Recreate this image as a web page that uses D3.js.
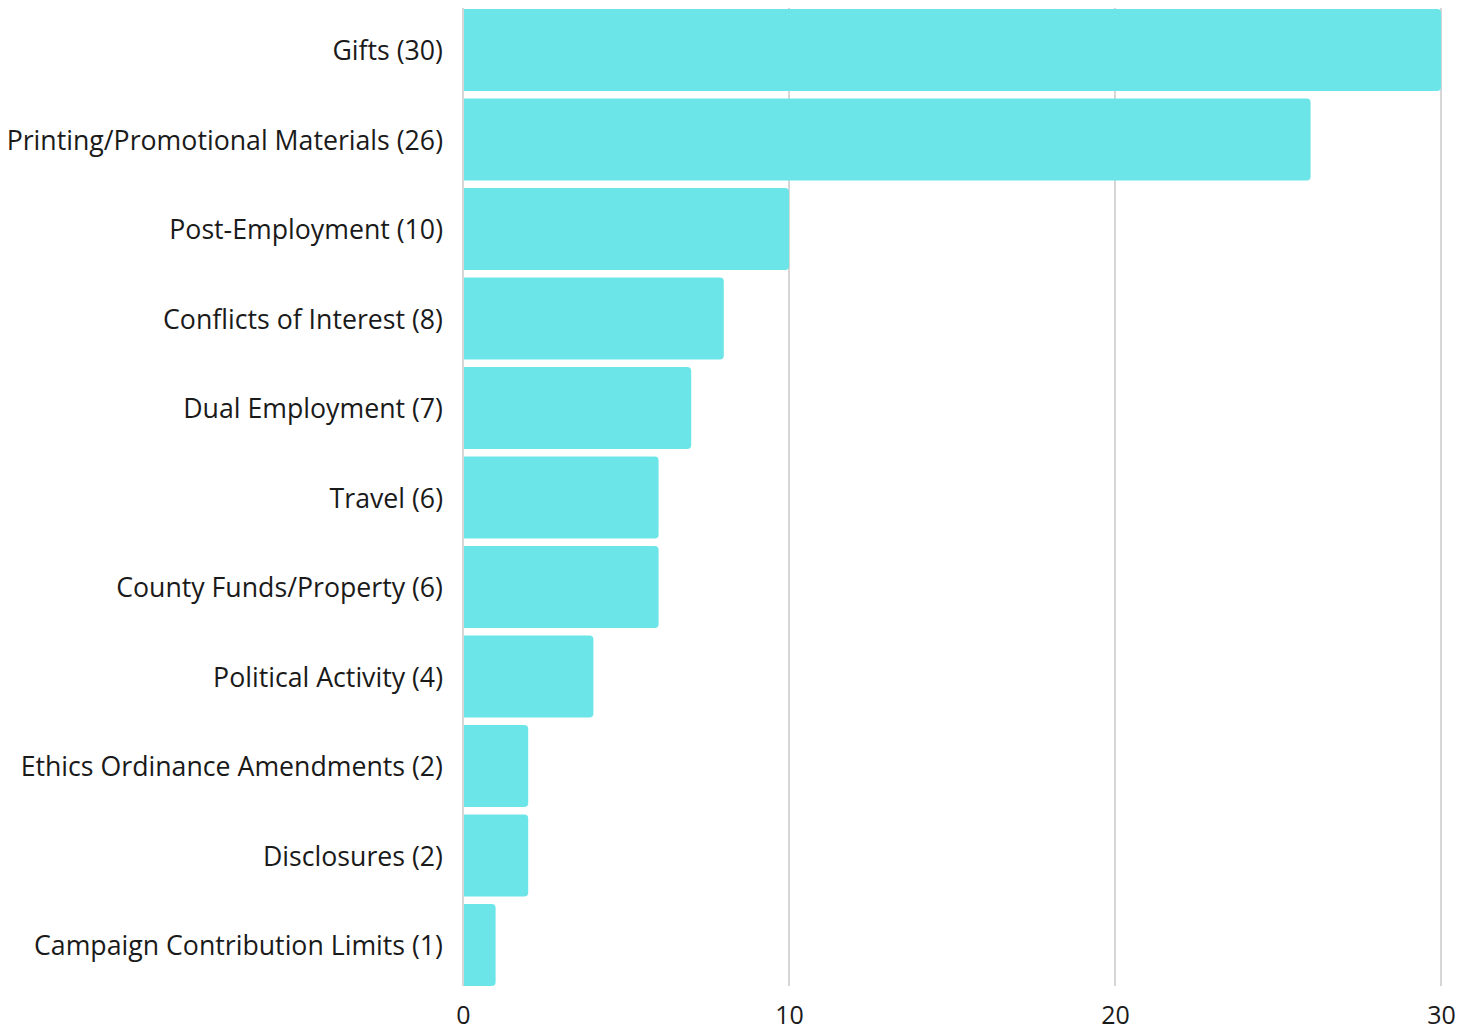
<!DOCTYPE html>
<html>
<head>
<meta charset="utf-8">
<script src="https://cdn.jsdelivr.net/npm/d3@7"></script>
<style>
  body { margin: 0; background: #fff; }
  text { font-family: "Open Sans", sans-serif; fill: #1a1a1a; }
</style>
</head>
<body>
<div id="chart"></div>
<script>
// categories and counts, top to bottom
const categories = [
    "Gifts", "Printing/Promotional Materials", "Post-Employment", "Conflicts of Interest",
    "Dual Employment", "Travel", "County Funds/Property", "Political Activity",
    "Ethics Ordinance Amendments", "Disclosures", "Campaign Contribution Limits"
];
const counts = [30, 26, 10, 8, 7, 6, 6, 4, 2, 2, 1];
const xTicks = [0, 10, 20, 30];

const width = 1471, height = 1030;
const margin = {top: 9, right: 30, bottom: 44, left: 463};

const svg = d3.select("#chart").append("svg")
    .attr("width", width)
    .attr("height", height);

const x = d3.scaleLinear()
    .domain([0, 30])
    .range([margin.left, width - margin.right]);

const y = d3.scaleBand()
    .domain(categories)
    .range([margin.top, height - margin.bottom])
    .paddingInner(0.084)
    .paddingOuter(0);

// gridlines
svg.append("g")
    .selectAll("line")
    .data(xTicks)
    .enter().append("line")
    .attr("x1", d => x(d))
    .attr("x2", d => x(d))
    .attr("y1", margin.top - 1)
    .attr("y2", height - margin.bottom)
    .attr("stroke", "#c8c8c8")
    .attr("stroke-width", 1.5);

// bars with rounded right end
const r = 4;
svg.append("g")
    .selectAll("path")
    .data(categories)
    .enter().append("path")
    .attr("fill", "#6ce5e8")
    .attr("d", (d, i) => {
        const x0 = x(0) + 1, x1 = x(counts[i]), y0 = y(d), h = y.bandwidth();
        return `M${x0},${y0}H${x1 - r}Q${x1},${y0} ${x1},${y0 + r}V${y0 + h - r}Q${x1},${y0 + h} ${x1 - r},${y0 + h}H${x0}Z`;
    });

// category labels
svg.append("g")
    .selectAll("text")
    .data(categories)
    .enter().append("text")
    .attr("x", margin.left - 20)
    .attr("y", d => y(d) + y.bandwidth() / 2)
    .attr("dy", "0.38em")
    .attr("text-anchor", "end")
    .style("font-size", "26.7px")
    .text((d, i) => `${d} (${counts[i]})`);

// x axis labels
const xAxis = d3.axisBottom(x).tickValues(xTicks).tickSize(0).tickPadding(20);
const gx = svg.append("g")
    .attr("transform", `translate(0, ${height - margin.bottom})`)
    .call(xAxis);
gx.select(".domain").remove();
gx.selectAll("text")
    .style("font-size", "25px")
    .style("font-family", "'Open Sans', sans-serif")
    .attr("fill", "#1a1a1a");
</script>
</body>
</html>
